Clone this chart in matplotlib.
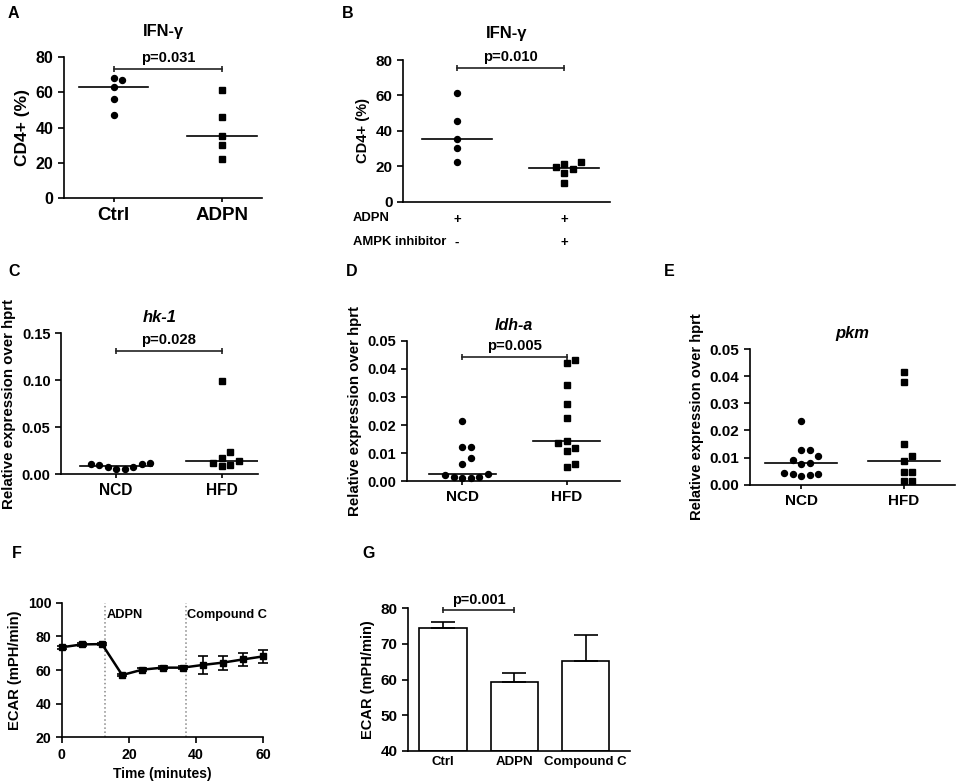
import numpy as np
import matplotlib
matplotlib.use("Agg")
import matplotlib.pyplot as plt
import matplotlib.transforms as mtransforms

plt.rcParams['font.family'] = ['Liberation Sans', 'DejaVu Sans']
plt.rcParams['font.weight'] = 'bold'
plt.rcParams['axes.labelweight'] = 'bold'
plt.rcParams['axes.titleweight'] = 'bold'
plt.rcParams['axes.linewidth'] = 1.2

# ---- data ----
a_groups = ['Ctrl', 'ADPN']
a_ctrl = [68.0, 66.8, 62.7, 56.1, 47.1]
a_adpn = [61.2, 45.7, 35.4, 30.3, 22.4]

b_adpn = [61.5, 45.7, 35.6, 30.1, 22.2]
b_inhib = [22.6, 21.3, 19.6, 18.7, 16.0, 10.7]
b_row1 = ['+', '+']
b_row2 = ['-', '+']

diet_groups = ['NCD', 'HFD']
c_ncd = [0.0113, 0.0103, 0.0078, 0.0057, 0.0057, 0.0078, 0.0113, 0.0120]
c_hfd = [0.0996, 0.0238, 0.0120, 0.0177, 0.0138, 0.0085, 0.0096]
d_ncd = [0.0213, 0.0122, 0.0122, 0.0082, 0.0063, 0.0021, 0.0017, 0.0011,
         0.0011, 0.0017, 0.0026]
d_hfd = [0.0419, 0.0431, 0.0341, 0.0274, 0.0224, 0.0145, 0.0135, 0.0117,
         0.0109, 0.0052, 0.0060]
e_ncd = [0.0235, 0.0127, 0.0127, 0.0105, 0.0081, 0.0077, 0.0090, 0.0043,
         0.0038, 0.0031, 0.0036, 0.0038]
e_hfd = [0.0417, 0.0380, 0.0150, 0.0107, 0.0086, 0.0048, 0.0048, 0.0014, 0.0014]

f_time = [0, 6, 12, 18, 24, 30, 36, 42, 48, 54, 60]
f_ecar = [73.5, 75.2, 75.4, 57.0, 60.2, 61.4, 61.4, 63.0, 64.4, 66.3, 68.1]
f_err = [1.0, 0.8, 0.8, 0.8, 0.8, 0.8, 0.8, 5.2, 4.2, 3.9, 3.8]
f_events = [13, 37]
f_event_labels = ['ADPN', 'Compound C']

g_groups = ['Ctrl', 'ADPN', 'Compound C']
g_ecar = [74.6, 59.4, 65.3]
g_err = [1.6, 2.5, 7.2]

W, H = 957, 782
fig = plt.figure(figsize=(W / 100, H / 100), dpi=100)


def make_axes(l, t, r, b, fs=10.5):
    ax = fig.add_axes([l / W, 1 - b / H, (r - l) / W, (b - t) / H])
    ax.spines['top'].set_visible(False)
    ax.spines['right'].set_visible(False)
    ax.tick_params(direction='out', length=4, width=1.2, labelsize=fs)
    return ax


def swarm(ax, xc, vals, step=8.5):
    # simple beeswarm in pixel space so close points sit side by side
    ys = ax.transData.transform(np.column_stack([np.full(len(vals), xc), vals]))[:, 1]
    cands = [0] + [s * j for j in range(1, 20) for s in (1, -1)]
    placed, offs = [], np.zeros(len(vals))
    for i in np.argsort(ys):
        for c in cands:
            x = c * step
            if all((x - px) ** 2 + (ys[i] - py) ** 2 >= step ** 2 for px, py in placed):
                break
        placed.append((x, ys[i]))
        offs[i] = x
    unit = ax.transData.transform([[1, 0]])[0, 0] - ax.transData.transform([[0, 0]])[0, 0]
    return offs / unit


def dots(ax, groups, half=0.33):
    for i, (vals, m) in enumerate(groups):
        x = i + swarm(ax, i, vals)
        ax.plot(x, vals, ls='none', marker=m, ms=4.3, color='black', clip_on=False)
        med = np.median(vals)
        ax.plot([i - half, i + half], [med, med], color='black', lw=1.2)


def bracket(ax, x0, x1, y, text, fs=10.7):
    ax.plot([x0, x1], [y, y], color='#222222', lw=1.2, marker='|', ms=5,
            mew=1.2, clip_on=False)
    ax.annotate(text, xy=((x0 + x1) / 2, y), xytext=(0, 2.5), textcoords='offset points',
                ha='center', va='bottom', fontsize=fs, fontweight='bold',
                annotation_clip=False)


def panel_label(x, y, s):
    fig.text(x / W, 1 - y / H, s, fontsize=11.5, fontweight='bold', va='top', ha='left')


# ---- A ----
ax = make_axes(64, 57, 262, 198, fs=11.5)
ax.set_xlim(-0.46, 1.37)
ax.set_ylim(0, 80)
ax.set_yticks([0, 20, 40, 60, 80])
dots(ax, [(a_ctrl, 'o'), (a_adpn, 's')], half=0.32)
ax.set_xticks([0, 1])
ax.set_xticklabels(a_groups, fontsize=13.5)
ax.tick_params(axis='x', length=3)
ax.set_ylabel('CD4+ (%)', fontsize=12.5)
ax.set_title('IFN-γ', fontsize=11.8, pad=15)
bracket(ax, 0, 1, 73.4, 'p=0.031', fs=10.5)

# ---- B ----
ax = make_axes(403, 60, 610, 201.7, fs=11)
ax.set_xlim(-0.505, 1.43)
ax.set_ylim(0, 80)
ax.set_yticks([0, 20, 40, 60, 80])
dots(ax, [(b_adpn, 'o'), (b_inhib, 's')], half=0.33)
ax.set_xticks([0, 1])
ax.set_xticklabels(b_row1, fontsize=9.5)
ax.tick_params(axis='x', length=0, pad=9)
ax.set_ylabel('CD4+ (%)', fontsize=10.5)
ax.set_title('IFN-γ', fontsize=12, pad=16)
bracket(ax, 0, 1, 75.7, 'p=0.010')
tr = mtransforms.blended_transform_factory(ax.transData, ax.transAxes)
for i, s in enumerate(b_row2):
    ax.text(i, -0.29, s, transform=tr, ha='center', va='center', fontsize=9.5)
fig.text(353 / W, 1 - 218 / H, 'ADPN', fontsize=9.4, va='center')
fig.text(353 / W, 1 - 242 / H, 'AMPK inhibitor', fontsize=9.4, va='center')

# ---- C ----
ax = make_axes(61, 333.3, 258, 474.3, fs=10.5)
ax.set_xlim(-0.52, 1.34)
ax.set_ylim(0, 0.15)
ax.set_yticks([0, 0.05, 0.10, 0.15])
ax.yaxis.set_major_formatter(plt.FormatStrFormatter('%.2f'))
dots(ax, [(c_ncd, 'o'), (c_hfd, 's')], half=0.34)
ax.set_xticks([0, 1])
ax.set_xticklabels(diet_groups, fontsize=11.2)
ax.tick_params(axis='x', length=3)
ax.set_ylabel('Relative expression over hprt', fontsize=10.8)
ax.set_title('hk-1', fontsize=11.9, style='italic', pad=8)
bracket(ax, 0, 1, 0.1316, 'p=0.028')

# ---- D ----
ax = make_axes(406.7, 340.7, 620, 481.3, fs=10.5)
ax.set_xlim(-0.53, 1.51)
ax.set_ylim(0, 0.05)
ax.set_yticks([0, 0.01, 0.02, 0.03, 0.04, 0.05])
ax.yaxis.set_major_formatter(plt.FormatStrFormatter('%.2f'))
dots(ax, [(d_ncd, 'o'), (d_hfd, 's')], half=0.32)
ax.set_xticks([0, 1])
ax.set_xticklabels(diet_groups, fontsize=11)
ax.tick_params(axis='x', length=3)
ax.set_ylabel('Relative expression over hprt', fontsize=10.8)
ax.set_title('ldh-a', fontsize=11.5, style='italic', pad=8)
bracket(ax, 0, 1, 0.0443, 'p=0.005')

# ---- E ----
ax = make_axes(750, 349, 955, 484.7, fs=11)
ax.set_xlim(-0.5, 1.5)
ax.set_ylim(0, 0.05)
ax.set_yticks([0, 0.01, 0.02, 0.03, 0.04, 0.05])
ax.yaxis.set_major_formatter(plt.FormatStrFormatter('%.2f'))
dots(ax, [(e_ncd, 'o'), (e_hfd, 's')], half=0.35)
ax.set_xticks([0, 1])
ax.set_xticklabels(diet_groups, fontsize=11)
ax.tick_params(axis='x', length=3)
ax.set_ylabel('Relative expression over hprt', fontsize=10.6)
ax.set_title('pkm', fontsize=11.9, style='italic', pad=8)

# ---- F ----
ax = make_axes(61.7, 602.7, 263.3, 737.3, fs=10.2)
ax.set_xlim(0, 60)
ax.set_ylim(20, 100)
ax.set_xticks([0, 20, 40, 60])
ax.set_yticks([20, 40, 60, 80, 100])
for t, lab in zip(f_events, f_event_labels):
    ax.axvline(t, color='#888888', ls=':', lw=1.1)
    ax.text(t + 0.3, 92.7, lab, fontsize=9.2, ha='left', va='center')
ax.errorbar(f_time, f_ecar, yerr=f_err, color='black', lw=1.8, marker='s', ms=4.5,
            capsize=3.6, elinewidth=1.2, capthick=1.2, clip_on=False)
ax.set_ylabel('ECAR (mPH/min)', fontsize=10.6)
ax.set_xlabel('Time (minutes)', fontsize=10)

# ---- G ----
ax = make_axes(407.7, 608.3, 630, 750.7, fs=11)
xg = np.arange(len(g_groups))
ax.set_xlim(-0.495, 2.62)
ax.set_ylim(40, 80)
ax.set_yticks([40, 50, 60, 70, 80])
ax.bar(xg, np.array(g_ecar) - 40, bottom=40, width=0.66, color='white',
       edgecolor='black', lw=1.2)
ax.errorbar(xg, g_ecar, yerr=[np.zeros(len(g_err)), g_err], fmt='none',
            ecolor='black', elinewidth=1.2, capsize=8.5, capthick=1.2)
ax.set_xticks(xg)
ax.set_xticklabels(g_groups, fontsize=9.5)
ax.tick_params(axis='x', length=0)
ax.set_ylabel('ECAR (mPH/min)', fontsize=10.5)
bracket(ax, 0, 1, 79.5, 'p=0.001', fs=10.4)

for x, y, s in [(8, 6, 'A'), (342, 6, 'B'), (8, 264, 'C'), (346, 264, 'D'),
                (664, 264, 'E'), (12, 546, 'F'), (362, 546, 'G')]:
    panel_label(x, y, s)

fig.savefig('out.png', dpi=100)
